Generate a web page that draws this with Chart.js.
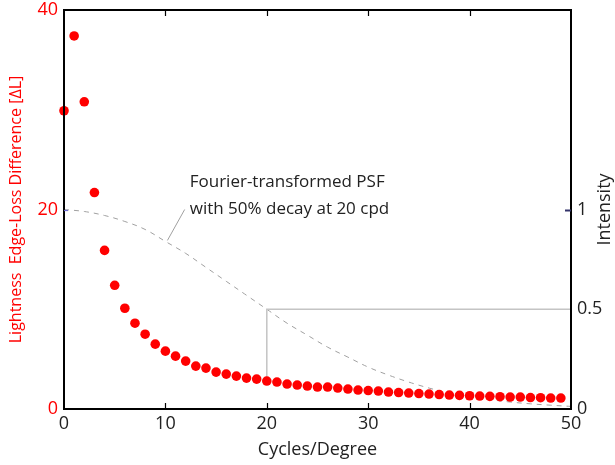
<!DOCTYPE html>
<html>
<head>
<meta charset="utf-8">
<script src="https://cdn.jsdelivr.net/npm/chart.js@4.4.1/dist/chart.umd.min.js"></script>
<style>
  html, body { margin:0; padding:0; background:#fff; }
  #wrap { width:615px; height:465px; }
</style>
</head>
<body>
<div id="wrap"><canvas id="c"></canvas></div>
<script>
// ---------------- DATA ----------------
const cycles = [0,1,2,3,4,5,6,7,8,9,10,11,12,13,14,15,16,17,18,19,20,21,22,23,24,
                25,26,27,28,29,30,31,32,33,34,35,36,37,38,39,40,41,42,43,44,45,46,47,48,49];
const edgeLoss = [29.9,37.4,30.8,21.7,15.9,12.4,10.1,8.6,7.5,6.5,5.8,5.3,4.8,4.3,4.1,3.7,3.5,3.3,3.1,3.0,
                  2.8,2.7,2.5,2.4,2.3,2.2,2.2,2.1,2.0,1.9,1.85,1.8,1.7,1.65,1.6,1.55,1.5,1.45,1.4,1.37,
                  1.33,1.3,1.27,1.23,1.2,1.2,1.15,1.13,1.1,1.1];

// dashed PSF curve
const psfX = [0,2,4,6,8,10,12,14,16,18,20,22,24,26,28,30,32,34,36,38,40,42,44,46,48,50];
const psfY = [1.0,0.99,0.97,0.94,0.90,0.84,0.78,0.71,0.64,0.57,0.50,0.43,0.37,0.31,0.26,0.21,
              0.17,0.135,0.105,0.08,0.06,0.047,0.035,0.026,0.019,0.013];

// half-decay guide and leader line
const guideX = [20,20,50];
const guideY = [0.14,0.5,0.5];
const leaderX = [10.2,11.9];
const leaderY = [0.845,1.0];

const xTicks = [0,10,20,30,40,50];
const leftTicks = [0,20,40];
const rightTicks = [0,0.5,1];
const noteLines = ["Fourier-transformed PSF","with 50% decay at 20 cpd"];

const FONT = "'Open Sans', 'Noto Sans', sans-serif";

function pts(xs, ys){ return xs.map((x,i)=>({x:x, y:ys[i]})); }

function fixSize(key, size){
  return s => {
    s[key] = size;
    s.paddingTop = 0; s.paddingBottom = 0; s.paddingLeft = 0; s.paddingRight = 0;
  };
}

// ---------------- FRAME + TICKS + NOTE ----------------
const framePlugin = {
  id:'frame',
  afterDatasetsDraw(chart){
    const ctx = chart.ctx, a = chart.chartArea;
    const sx = chart.scales.x, sy = chart.scales.y, sy1 = chart.scales.y1;
    ctx.save();
    ctx.strokeStyle = '#000';
    ctx.lineWidth = 2;
    ctx.strokeRect(a.left, a.top, a.right - a.left, a.bottom - a.top);
    ctx.lineWidth = 1.2;
    [10,20,30,40].forEach(v=>{
      const px = Math.round(sx.getPixelForValue(v)) + 0.5;
      ctx.beginPath();
      ctx.moveTo(px, a.bottom); ctx.lineTo(px, a.bottom - 6);
      ctx.moveTo(px, a.top); ctx.lineTo(px, a.top + 6);
      ctx.stroke();
    });
    ctx.strokeStyle = '#6a6ad0';
    let py = Math.round(sy.getPixelForValue(20)) + 0.5;
    ctx.beginPath(); ctx.moveTo(a.left, py); ctx.lineTo(a.left + 4, py); ctx.stroke();
    ctx.strokeStyle = '#33336a';
    ctx.lineWidth = 2;
    py = Math.round(sy1.getPixelForValue(1)) + 0.5;
    ctx.beginPath(); ctx.moveTo(a.right, py); ctx.lineTo(a.right - 6, py); ctx.stroke();

    ctx.fillStyle = '#222';
    ctx.font = '17px ' + FONT;
    ctx.textBaseline = 'middle';
    const tx = sx.getPixelForValue(12.4);
    ctx.fillText(noteLines[0], tx, sy1.getPixelForValue(1.135));
    ctx.fillText(noteLines[1], tx, sy1.getPixelForValue(1.0));

    // right axis title reads bottom to top
    ctx.save();
    ctx.translate(605, (a.top + a.bottom) / 2);
    ctx.rotate(-Math.PI / 2);
    ctx.textAlign = 'center';
    ctx.font = '18px ' + FONT;
    ctx.fillText('Intensity', 0, 0);
    ctx.restore();
    ctx.restore();
  }
};

new Chart(document.getElementById('c'), {
  type:'scatter',
  data:{
    datasets:[
      {
        data: pts(psfX, psfY), yAxisID:'y1', showLine:true,
        borderColor:'#a0a0a0', borderWidth:1, borderDash:[5,5],
        pointRadius:0, tension:0.4, order:3
      },
      {
        data: pts(guideX, guideY), yAxisID:'y1', showLine:true,
        borderColor:'#c4c4c4', borderWidth:1.5, pointRadius:0, order:2
      },
      {
        data: pts(leaderX, leaderY), yAxisID:'y1', showLine:true,
        borderColor:'#a0a0a0', borderWidth:1, pointRadius:0, order:2
      },
      {
        data: pts(cycles, edgeLoss), yAxisID:'y', clip:false,
        backgroundColor:'#ff0000', borderColor:'#ff0000', borderWidth:0,
        pointRadius:4.8, order:1
      }
    ]
  },
  options:{
    responsive:true, maintainAspectRatio:false, animation:false,
    layout:{ padding:{ top:10, left:0, right:0, bottom:0 } },
    plugins:{ legend:{display:false}, tooltip:{enabled:false} },
    scales:{
      x:{
        type:'linear', min:0, max:50,
        afterBuildTicks: s => { s.ticks = xTicks.map(v=>({value:v})); },
        afterFit: fixSize('height', 56),
        grid:{display:false, drawTicks:false}, border:{display:false},
        ticks:{ color:'#222', font:{family:FONT, size:18}, padding:4, maxRotation:0 },
        title:{ display:true, text:'Cycles/Degree', color:'#222', font:{family:FONT, size:18}, padding:{top:0} }
      },
      y:{
        position:'left', min:0, max:40,
        afterBuildTicks: s => { s.ticks = leftTicks.map(v=>({value:v})); },
        afterFit: fixSize('width', 64),
        grid:{display:false, drawTicks:false}, border:{display:false},
        ticks:{ color:'#ff0000', font:{family:FONT, size:18}, padding:6 },
        title:{ display:true, text:'Lightness  Edge-Loss Difference [\u0394L]', color:'#ff0000',
                font:{family:FONT, size:16}, padding:{bottom:0, top:7} }
      },
      y1:{
        position:'right', min:0, max:2,
        afterBuildTicks: s => { s.ticks = rightTicks.map(v=>({value:v})); },
        afterFit: fixSize('width', 44),
        grid:{display:false, drawTicks:false}, border:{display:false},
        ticks:{ color:'#222', font:{family:FONT, size:18}, padding:6, callback: v => String(v) }
      }
    }
  },
  plugins:[framePlugin]
});
</script>
</body>
</html>
